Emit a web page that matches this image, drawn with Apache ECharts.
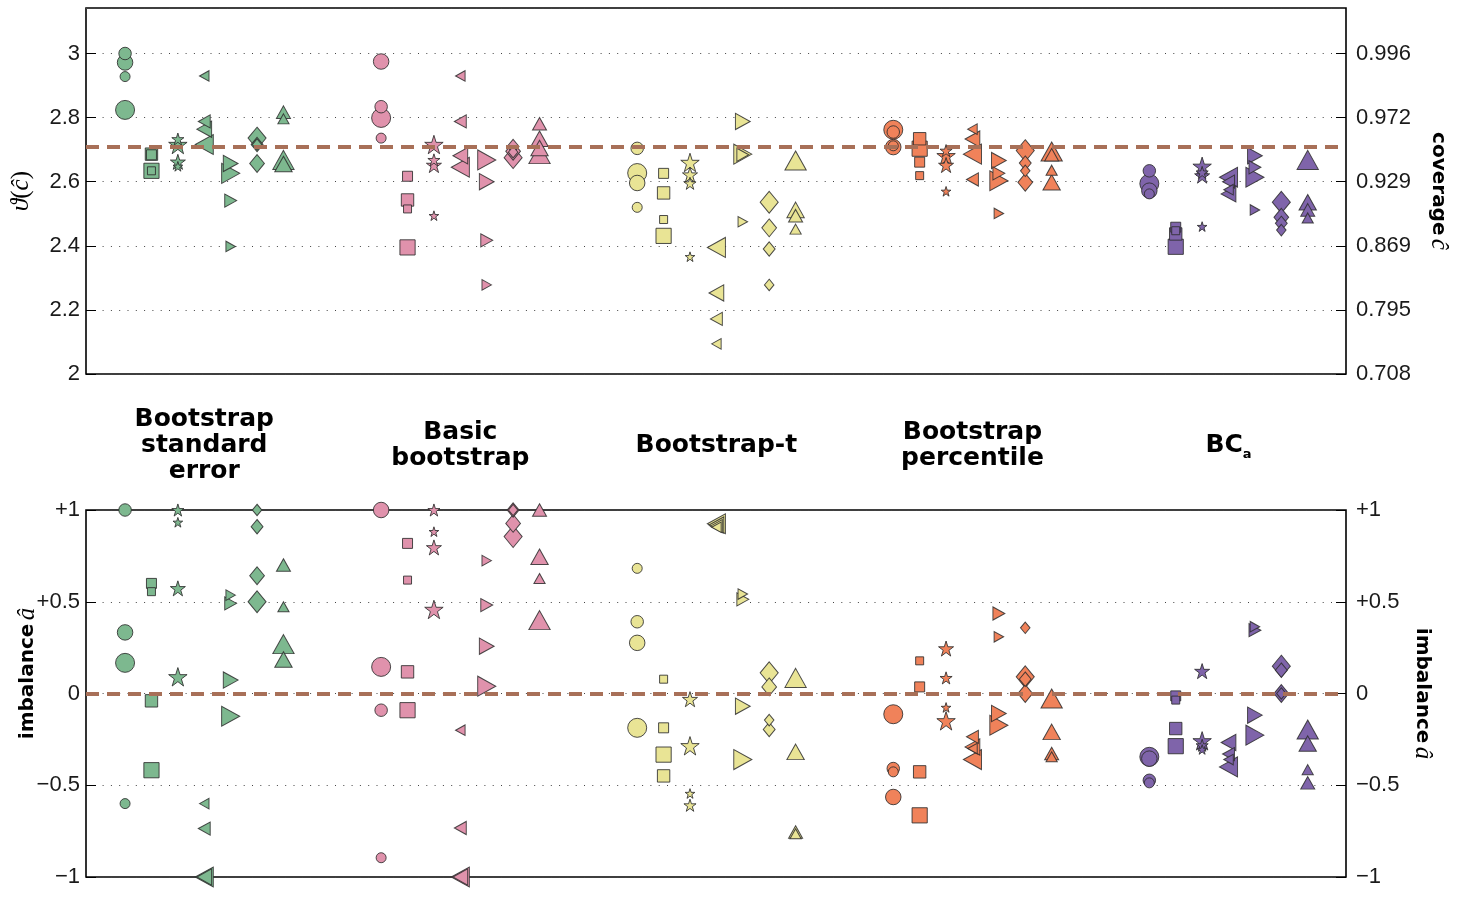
<!DOCTYPE html>
<html>
<head>
<meta charset="utf-8">
<script src="https://cdn.jsdelivr.net/npm/echarts@6/dist/echarts.min.js"></script>
<style>
  html, body { margin: 0; padding: 0; background: #fff; }
  #chart { width: 1458px; height: 898px; }
</style>
</head>
<body>
<div id="chart"></div>
<script>
// Confidence-interval methods (one group of marker columns each)
const methods = ['Bootstrap\nstandard\nerror', 'Basic\nbootstrap', 'Bootstrap-t', 'Bootstrap\npercentile', 'BC{s|a}'];
// Simulation settings, one marker shape each (columns inside a group)
const shapes = ['circle', 'square', 'star', 'left', 'right', 'diamond', 'up'];

// Transformed coverage ϑ(ĉ): per shape, four [value, sample-size level] points
const thetaSE = [
  [[3.000, 1], [2.972, 2], [2.928, 0], [2.824, 3]],
  [[2.686, 2], [2.684, 1], [2.634, 3], [2.634, 0]],
  [[2.733, 1], [2.716, 3], [2.662, 2], [2.648, 0]],
  [[2.930, 0], [2.788, 1], [2.764, 2], [2.716, 3]],
  [[2.657, 2], [2.626, 3], [2.541, 1], [2.398, 0]],
  [[2.736, 3], [2.716, 1], [2.716, 0], [2.657, 2]],
  [[2.817, 1], [2.796, 0], [2.668, 3], [2.655, 2]]
];
const thetaBasic = [
  [[2.975, 2], [2.834, 1], [2.799, 3], [2.736, 0]],
  [[2.617, 1], [2.543, 2], [2.515, 0], [2.395, 3]],
  [[2.716, 3], [2.668, 1], [2.652, 2], [2.494, 0]],
  [[2.930, 0], [2.788, 1], [2.681, 2], [2.645, 3]],
  [[2.668, 3], [2.600, 2], [2.417, 1], [2.278, 0]],
  [[2.710, 1], [2.695, 2], [2.692, 0], [2.675, 3]],
  [[2.781, 1], [2.734, 2], [2.705, 2], [2.686, 3]]
];
const thetaT = [
  [[2.704, 1], [2.627, 3], [2.596, 2], [2.520, 0]],
  [[2.626, 1], [2.565, 2], [2.482, 0], [2.431, 3]],
  [[2.660, 3], [2.622, 2], [2.595, 1], [2.366, 0]],
  [[2.395, 3], [2.253, 2], [2.172, 1], [2.094, 0]],
  [[2.788, 2], [2.686, 3], [2.684, 1], [2.475, 0]],
  [[2.536, 3], [2.456, 2], [2.390, 1], [2.278, 0]],
  [[2.666, 3], [2.512, 2], [2.494, 1], [2.452, 0]]
];
const thetaPerc = [
  [[2.762, 3], [2.755, 1], [2.708, 2], [2.712, 0]],
  [[2.734, 2], [2.703, 3], [2.661, 1], [2.619, 0]],
  [[2.697, 1], [2.681, 3], [2.652, 2], [2.570, 0]],
  [[2.764, 0], [2.733, 2], [2.686, 3], [2.607, 1]],
  [[2.666, 2], [2.626, 1], [2.603, 3], [2.501, 0]],
  [[2.697, 3], [2.658, 1], [2.634, 0], [2.598, 2]],
  [[2.694, 3], [2.684, 1], [2.636, 0], [2.598, 2]]
];
const thetaBCa = [
  [[2.634, 1], [2.594, 3], [2.572, 2], [2.562, 0]],
  [[2.458, 1], [2.447, 0], [2.437, 2], [2.397, 3]],
  [[2.648, 3], [2.629, 1], [2.619, 2], [2.460, 0]],
  [[2.614, 3], [2.600, 1], [2.575, 0], [2.562, 2]],
  [[2.681, 2], [2.645, 1], [2.614, 3], [2.512, 0]],
  [[2.536, 3], [2.489, 2], [2.470, 1], [2.449, 0]],
  [[2.668, 3], [2.536, 2], [2.512, 1], [2.487, 0]]
];

// Imbalance â: per shape, four [value, sample-size level] points
const imbSE = [
  [[1.000, 1], [0.333, 2], [0.167, 3], [-0.600, 0]],
  [[0.600, 1], [0.555, 0], [-0.040, 2], [-0.418, 3]],
  [[1.000, 1], [0.933, 0], [0.573, 2], [0.091, 3]],
  [[-0.600, 0], [-0.736, 1], [-1.000, 3], [-1.000, 2]],
  [[0.536, 0], [0.491, 1], [0.073, 2], [-0.124, 3]],
  [[1.000, 0], [0.909, 1], [0.642, 2], [0.500, 3]],
  [[0.700, 1], [0.473, 0], [0.269, 3], [0.185, 2]]
];
const imbBasic = [
  [[1.000, 2], [0.145, 3], [-0.091, 1], [-0.895, 0]],
  [[0.818, 1], [0.618, 0], [0.118, 2], [-0.091, 3]],
  [[1.000, 1], [0.882, 0], [0.796, 2], [0.458, 3]],
  [[-0.200, 0], [-0.733, 1], [-1.000, 3], [-1.000, 2]],
  [[0.724, 0], [0.482, 1], [0.258, 2], [0.040, 3]],
  [[1.000, 0], [1.000, 1], [0.927, 2], [0.855, 3]],
  [[1.000, 1], [0.745, 2], [0.627, 0], [0.400, 3]]
];
const imbT = [
  [[0.682, 0], [0.391, 1], [0.276, 2], [-0.187, 3]],
  [[0.078, 0], [-0.187, 1], [-0.333, 3], [-0.449, 2]],
  [[-0.031, 2], [-0.285, 3], [-0.545, 0], [-0.609, 1]],
  [[0.925, 3], [0.918, 2], [0.912, 1], [0.906, 0]],
  [[0.542, 0], [0.513, 1], [-0.069, 2], [-0.360, 3]],
  [[0.113, 3], [0.036, 2], [-0.145, 0], [-0.196, 1]],
  [[0.085, 3], [-0.318, 2], [-0.755, 1], [-0.764, 0]]
];
const imbPerc = [
  [[-0.113, 3], [-0.409, 1], [-0.427, 0], [-0.564, 2]],
  [[0.178, 0], [0.036, 1], [-0.427, 2], [-0.664, 3]],
  [[0.245, 2], [0.085, 1], [-0.076, 0], [-0.149, 3]],
  [[-0.236, 1], [-0.291, 2], [-0.300, 0], [-0.360, 3]],
  [[0.436, 1], [0.309, 0], [-0.109, 2], [-0.173, 3]],
  [[0.358, 0], [0.091, 3], [0.078, 1], [0.000, 2]],
  [[-0.027, 3], [-0.209, 2], [-0.327, 1], [-0.345, 0]]
];
const imbBCa = [
  [[-0.345, 3], [-0.355, 2], [-0.473, 1], [-0.487, 0]],
  [[-0.013, 1], [-0.036, 0], [-0.191, 2], [-0.287, 3]],
  [[0.122, 2], [-0.258, 3], [-0.282, 1], [-0.305, 0]],
  [[-0.267, 2], [-0.330, 1], [-0.360, 0], [-0.400, 3]],
  [[0.364, 0], [0.345, 1], [-0.118, 2], [-0.227, 3]],
  [[0.149, 3], [0.127, 1], [0.000, 2], [0.000, 0]],
  [[-0.196, 3], [-0.273, 2], [-0.415, 0], [-0.487, 1]]
];

// Axis ticks and reference levels
const thetaTicks = [2, 2.2, 2.4, 2.6, 2.8, 3];
const coverageTicks = ['0.708', '0.795', '0.869', '0.929', '0.972', '0.996'];
const imbalanceTicks = [-1, -0.5, 0, 0.5, 1];
const nominalTheta = 2.708;   // ϑ at the nominal 0.95 coverage
const nominalImbalance = 0;

// ---- styling ----
const methodColors = ['#7DB88F', '#E092AC', '#E9E495', '#F0825A', '#7F64AA'];
const edgeColor = 'rgba(45,45,45,0.85)';
const refColor = '#A87058';
const groupStep = 9.7;          // column units between method groups
const xMin = -1.48, xMax = 46.25;
const levelSize = [10, 12.5, 15.5, 19];

function starPath() {
  let d = '';
  for (let i = 0; i < 10; i++) {
    const r = i % 2 ? 0.382 : 1;
    const a = -Math.PI / 2 + i * Math.PI / 5;
    d += (i ? 'L' : 'M') + (r * Math.cos(a)).toFixed(4) + ',' + (r * Math.sin(a)).toFixed(4) + ' ';
  }
  return 'path://' + d + 'Z';
}
const shapeStyle = {
  circle:  { symbol: 'circle',   f: [1, 1],       rot: 0 },
  square:  { symbol: 'rect',     f: [0.8, 0.8],   rot: 0 },
  star:    { symbol: starPath(), f: [0.97, 0.97], rot: 0 },
  left:    { symbol: 'triangle', f: [1.05, 0.95], rot: 90 },
  right:   { symbol: 'triangle', f: [1.05, 0.95], rot: -90 },
  diamond: { symbol: 'diamond',  f: [0.95, 1.15], rot: 0 },
  up:      { symbol: 'triangle', f: [1.12, 1.0],  rot: 0 }
};

const panels = [
  [thetaSE, thetaBasic, thetaT, thetaPerc, thetaBCa],
  [imbSE, imbBasic, imbT, imbPerc, imbBCa]
];

const tickFont = { fontFamily: 'Liberation Sans', fontSize: 22, color: '#1a1a1a', padding: [8, 0, 0, 0] };
const nameRich = {
  b: { fontFamily: 'DejaVu Sans', fontWeight: 'bold', fontSize: 20, color: '#000' },
  i: { fontFamily: 'Liberation Serif', fontStyle: 'italic', fontSize: 25, color: '#000' },
  n: { fontFamily: 'Liberation Serif', fontSize: 25, color: '#000' }
};
const gridLine = { show: true, lineStyle: { color: '#444', width: 1, type: [1, 7.3] } };
const edgeTicks = { inside: true, length: 10, lineStyle: { color: '#000', width: 1 } };
const noLine = { show: false, onZero: false };
const signed = v => v > 0 ? '+' + v : (v < 0 ? '\u2212' + Math.abs(v) : '0');

const series = [];
panels.forEach((panel, p) => {
  // dashed nominal reference line, beneath the markers
  series.push({
    type: 'scatter', xAxisIndex: p, yAxisIndex: p * 2, data: [], z: 2, silent: true,
    markLine: {
      silent: true, symbol: ['none', 'none'], label: { show: false },
      lineStyle: { color: refColor, width: 4, type: [13, 8] },
      data: [{ yAxis: p === 0 ? nominalTheta : nominalImbalance }]
    }
  });
  panel.forEach((cols, m) => {
    cols.forEach((pts, c) => {
      const st = shapeStyle[shapes[c]];
      const x = m * groupStep + c;
      const data = pts.map(([v, lv]) => [x, v, lv]).sort((a, b) => b[2] - a[2]);
      series.push({
        type: 'scatter', xAxisIndex: p, yAxisIndex: p * 2, z: 3, clip: false,
        symbol: st.symbol, symbolRotate: st.rot, symbolKeepAspect: false,
        symbolSize: val => [levelSize[val[2]] * st.f[0], levelSize[val[2]] * st.f[1]],
        itemStyle: { color: methodColors[m], borderColor: edgeColor, borderWidth: 1, opacity: 1 },
        emphasis: { disabled: true },
        data
      });
    });
  });
});

const chart = echarts.init(document.getElementById('chart'), null, { renderer: 'canvas' });
chart.setOption({
  backgroundColor: '#fff',
  animation: false,
  grid: [
    { left: 86, top: 8, width: 1260, height: 366, show: true, borderColor: '#000', borderWidth: 1.6, backgroundColor: 'transparent', outerBoundsMode: 'none' },
    { left: 86, top: 510, width: 1260, height: 367, show: true, borderColor: '#000', borderWidth: 1.6, backgroundColor: 'transparent', outerBoundsMode: 'none' }
  ],
  xAxis: [
    {
      gridIndex: 0, type: 'value', min: xMin, max: xMax,
      axisLine: noLine, axisTick: { show: false }, splitLine: { show: false },
      axisLabel: {
        customValues: methods.map((_, g) => g * groupStep + 3),
        formatter: v => methods[Math.round((v - 3) / groupStep)],
        margin: 71, verticalAlign: 'middle',
        fontFamily: 'DejaVu Sans', fontWeight: 'bold', fontSize: 25, lineHeight: 26, color: '#000',
        rich: { s: { fontFamily: 'DejaVu Sans', fontWeight: 'bold', fontSize: 13, verticalAlign: 'bottom', lineHeight: 32, color: '#000' } }
      }
    },
    { gridIndex: 1, type: 'value', min: xMin, max: xMax, show: false, axisLine: noLine }
  ],
  yAxis: [
    {
      gridIndex: 0, type: 'value', min: thetaTicks[0], max: 3.142, interval: 0.2,
      axisLine: noLine, axisTick: edgeTicks, splitLine: gridLine,
      axisLabel: Object.assign({ margin: 6, showMaxLabel: false }, tickFont),
      name: '{i|ϑ}{n|(}{i|ĉ}{n|)}', nameLocation: 'middle', nameRotate: 90, nameGap: 52,
      nameMoveOverlap: false,
      nameTextStyle: { rich: nameRich }
    },
    {
      gridIndex: 0, type: 'value', position: 'right', min: thetaTicks[0], max: 3.142, interval: 0.2,
      axisLine: noLine, axisTick: edgeTicks, splitLine: { show: false },
      axisLabel: Object.assign({
        margin: 10, showMaxLabel: false,
        formatter: v => coverageTicks[thetaTicks.findIndex(t => Math.abs(t - v) < 1e-6)] || ''
      }, tickFont),
      name: '{b|coverage} {i|ĉ}', nameLocation: 'middle', nameRotate: -90, nameGap: 80,
      nameMoveOverlap: false,
      nameTextStyle: { rich: nameRich }
    },
    {
      gridIndex: 1, type: 'value', min: imbalanceTicks[0], max: imbalanceTicks[4], interval: 0.5,
      axisLine: noLine, axisTick: edgeTicks, splitLine: gridLine,
      axisLabel: Object.assign({ margin: 6, formatter: signed }, tickFont),
      name: '{b|imbalance} {i|â}', nameLocation: 'middle', nameRotate: 90, nameGap: 46,
      nameMoveOverlap: false,
      nameTextStyle: { rich: nameRich, padding: [0, 0, 0, 40] }
    },
    {
      gridIndex: 1, type: 'value', position: 'right', min: imbalanceTicks[0], max: imbalanceTicks[4], interval: 0.5,
      axisLine: noLine, axisTick: edgeTicks, splitLine: { show: false },
      axisLabel: Object.assign({ margin: 10, formatter: signed }, tickFont),
      name: '{b|imbalance} {i|â}', nameLocation: 'middle', nameRotate: -90, nameGap: 64,
      nameMoveOverlap: false,
      nameTextStyle: { rich: nameRich }
    }
  ],
  series
});
</script>
</body>
</html>
